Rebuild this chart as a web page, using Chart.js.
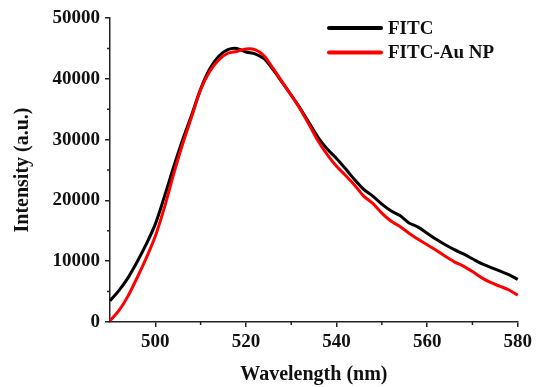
<!DOCTYPE html>
<html>
<head>
<meta charset="utf-8">
<script src="https://cdn.jsdelivr.net/npm/chart.js@4.4.1/dist/chart.umd.min.js"></script>
<style>
html,body{margin:0;padding:0;background:#fff;}
canvas{display:block;}
</style>
</head>
<body>
<canvas id="c" width="536" height="387"></canvas>
<script>
const wavelengths = [490,492,494,496,498,500,502,504,506,508,510,512,514,516,518,520,522,524,526,528,530,532,534,536,538,540,542,544,546,548,550,552,554,556,558,560,562,564,566,568,570,572,574,576,578,580];
const fitc = [3500,5200,7300,9900,12800,16100,20600,25400,29900,34000,38300,41600,43700,44800,45000,44400,44100,43300,41500,39400,37300,35100,32700,30300,28400,26900,25200,23400,21800,20700,19400,18300,17500,16300,15600,14600,13600,12700,11900,11200,10400,9600,9000,8400,7800,7000];
const fitcAuNP = [200,1900,4300,7300,10500,14100,18800,24200,29200,33700,38200,41200,43100,44200,44500,44900,44800,43800,41700,39500,37300,35000,32400,29700,27500,25600,24100,22500,20700,19500,17900,16600,15700,14600,13600,12700,11800,10800,9900,9200,8300,7300,6500,5900,5300,4400];
const seriesNames = ["FITC", "FITC-Au NP"];
const xMajorTicks = [500,520,540,560,580];
const xMinorTicks = [510,530,550,570];
const yMajorTicks = [0,10000,20000,30000,40000,50000];
const yMinorTicks = [5000,15000,25000,35000,45000];

const FONT = "'Liberation Serif', 'Times New Roman', serif";
const AXIS = '#222';

const minorTicks = {
  id: 'minorTicks',
  afterDraw(chart) {
    const ctx = chart.ctx;
    const xs = chart.scales.x, ys = chart.scales.y;
    ctx.save();
    ctx.strokeStyle = AXIS;
    ctx.lineWidth = 1.5;
    ctx.beginPath();
    xMinorTicks.forEach(v => {
      const px = xs.getPixelForValue(v);
      ctx.moveTo(px, chart.chartArea.bottom);
      ctx.lineTo(px, chart.chartArea.bottom + 3);
    });
    yMinorTicks.forEach(v => {
      const py = ys.getPixelForValue(v);
      ctx.moveTo(chart.chartArea.left, py);
      ctx.lineTo(chart.chartArea.left - 3, py);
    });
    ctx.stroke();
    ctx.restore();
  }
};

const customLegend = {
  id: 'customLegend',
  afterDraw(chart) {
    const ctx = chart.ctx;
    ctx.save();
    ctx.font = "bold 19px " + FONT;
    ctx.textBaseline = 'middle';
    ctx.textAlign = 'left';
    const rows = [28, 52.5];
    chart.data.datasets.forEach((ds, i) => {
      const y = rows[i];
      ctx.strokeStyle = ds.borderColor;
      ctx.lineWidth = 4;
      ctx.lineCap = 'round';
      ctx.beginPath();
      ctx.moveTo(329, y);
      ctx.lineTo(381, y);
      ctx.stroke();
      ctx.fillStyle = '#111';
      ctx.fillText(ds.label, 388, y + 1);
    });
    ctx.restore();
  }
};

new Chart(document.getElementById('c'), {
  type: 'line',
  data: {
    datasets: [
      { label: seriesNames[0], data: wavelengths.map((w, i) => ({x: w, y: fitc[i]})),
        borderColor: '#000000', borderWidth: 3, pointRadius: 0, tension: 0.3, order: 1, clip: false },
      { label: seriesNames[1], data: wavelengths.map((w, i) => ({x: w, y: fitcAuNP[i]})),
        borderColor: '#ff0000', borderWidth: 3, pointRadius: 0, tension: 0.3, order: 0, clip: false }
    ]
  },
  options: {
    responsive: false,
    animation: false,
    layout: { padding: { left: 0, right: 17, top: 18, bottom: 0 } },
    plugins: { legend: { display: false }, tooltip: { enabled: false } },
    scales: {
      x: {
        type: 'linear', min: 490, max: 580,
        afterBuildTicks: s => { s.ticks = xMajorTicks.map(v => ({value: v})); },
        afterFit: s => { s.height = 65; },
        border: { display: true, color: AXIS, width: 1.5 },
        grid: { drawOnChartArea: false, drawTicks: true, tickLength: 5, color: AXIS, lineWidth: 1.5 },
        ticks: { color: '#111', padding: 4, maxRotation: 0, font: { family: FONT, size: 19, weight: 'bold' }, callback: v => String(v) },
        title: { display: true, text: 'Wavelength (nm)', color: '#111', padding: { top: 0, bottom: 0 }, font: { family: FONT, size: 20, weight: 'bold' } }
      },
      y: {
        type: 'linear', min: 0, max: 50000,
        afterBuildTicks: s => { s.ticks = yMajorTicks.map(v => ({value: v})); },
        afterFit: s => { s.width = 110; },
        border: { display: true, color: AXIS, width: 1.5 },
        grid: { drawOnChartArea: false, drawTicks: true, tickLength: 5, color: AXIS, lineWidth: 1.5 },
        ticks: { color: '#111', padding: 5, font: { family: FONT, size: 19, weight: 'bold' }, callback: v => String(v) },
        title: { display: true, text: 'Intensity (a.u.)', color: '#111', padding: { top: 11, bottom: 0 }, font: { family: FONT, size: 20, weight: 'bold' } }
      }
    }
  },
  plugins: [minorTicks, customLegend]
});
</script>
</body>
</html>
